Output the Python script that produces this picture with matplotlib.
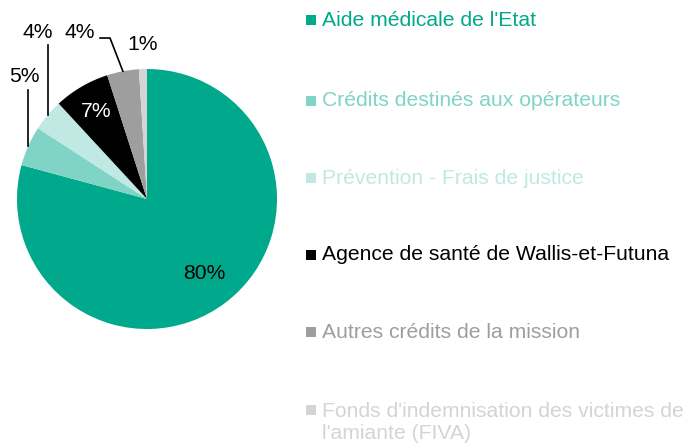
import numpy as np
import matplotlib
matplotlib.use("Agg")
import matplotlib.pyplot as plt

plt.rcParams['font.family'] = ['Liberation Sans', 'DejaVu Sans']

# Répartition des crédits de la mission (en %)
categories = [
    "Aide médicale de l'Etat",
    "Crédits destinés aux opérateurs",
    "Prévention - Frais de justice",
    "Agence de santé de Wallis-et-Futuna",
    "Autres crédits de la mission",
    "Fonds d'indemnisation des victimes de\nl'amiante (FIVA)",
]
values = [80, 5, 4, 7, 4, 1]
colors = ["#00A88C", "#7FD4C5", "#BFE9E2", "#000000", "#9E9E9E", "#D4D4D4"]

W, H = 689, 446
fig = plt.figure(figsize=(W / 100, H / 100), dpi=100)
ax = fig.add_axes([0, 0, 1, 1])

cx, cy, R = 147, H - 199, 130
wedges, _ = ax.pie(values, colors=colors, startangle=90, counterclock=False,
                   center=(cx, cy), radius=R, frame=True,
                   wedgeprops=dict(linewidth=0))
ax.set_xlim(0, W)
ax.set_ylim(0, H)
ax.set_aspect("equal")
ax.axis("off")

fs = 15.2

def edge(w, r=1.0):
    a = np.deg2rad((w.theta1 + w.theta2) / 2)
    return cx + r * R * np.cos(a), cy + r * R * np.sin(a)

# étiquettes à l'intérieur
for i, r, col in [(0, 0.72, "black"), (3, 0.78, "white")]:
    x, y = edge(wedges[i], r)
    ax.text(x, y, f"{values[i]}%", color=col, fontsize=fs, ha="center", va="center")

# étiquettes à l'extérieur avec traits de rappel
x, y = edge(wedges[1])
ax.plot([x, x], [y, H - 90], color="black", lw=1.2)
ax.text(24, H - 77, f"{values[1]}%", fontsize=fs, ha="center", va="center")

x, y = edge(wedges[2])
ax.plot([x, x], [y, H - 45], color="black", lw=1.2)
ax.text(38, H - 33, f"{values[2]}%", fontsize=fs, ha="center", va="center")

x, y = edge(wedges[4])
ax.plot([x, 110, 100], [y, H - 38, H - 38], color="black", lw=1.2)
ax.text(80, H - 33, f"{values[4]}%", fontsize=fs, ha="center", va="center")

ax.text(143, H - 45, f"{values[5]}%", fontsize=fs, ha="center", va="center")

# légende
ys = [20, 101, 178, 255, 332, 410]
for lab, col, yy in zip(categories, colors, ys):
    ax.add_patch(plt.Rectangle((306, H - yy - 5), 10, 10, color=col, lw=0))
    if "\n" in lab:
        ax.text(322, H - yy - 12.5, lab, color=col, fontsize=fs, ha="left", va="center",
                linespacing=1.15)
    else:
        ax.text(322, H - yy, lab, color=col, fontsize=fs, ha="left", va="center")

fig.savefig("out.png", dpi=100)
